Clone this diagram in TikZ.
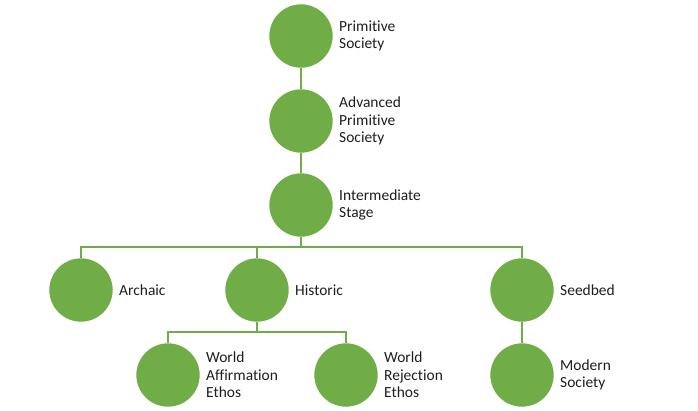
\documentclass[tikz,border=0pt]{standalone}
\usepackage{fontspec}
\setmainfont{Carlito}[Ligatures={NoCommon}]
\definecolor{leaf}{HTML}{70AD47}
\definecolor{ink}{HTML}{1E1E1E}
\begin{document}
\begin{tikzpicture}[x=0.75pt,y=-0.75pt,
    stage/.style={circle,fill=leaf,inner sep=0pt,minimum size=47.5pt},
    tag/.style={anchor=west,align=left,text=ink,inner sep=0pt,xshift=4.5pt,
      font=\fontsize{11.6}{13.1}\selectfont},
    link/.style={draw=leaf,line width=0.8pt}]
    \useasboundingbox (0,0) rectangle (698,410);

    % the chain at the top
    \node[stage] (prim) at (301,36) {};
    \node[stage] (adv) at (301,121) {};
    \node[stage] (inter) at (301,205) {};

    % second row
    \node[stage] (arch) at (81,290) {};
    \node[stage] (hist) at (257,290) {};
    \node[stage] (seed) at (522,290) {};

    % third row
    \node[stage] (affirm) at (168,375) {};
    \node[stage] (reject) at (346,375) {};
    \node[stage] (modern) at (522,375) {};

    \node[tag] at (prim.east) {Primitive\\Society};
    \node[tag] at (adv.east) {Advanced\\Primitive\\Society};
    \node[tag] at (inter.east) {Intermediate\\Stage};
    \node[tag] at (arch.east) {Archaic};
    \node[tag] at (hist.east) {Historic};
    \node[tag] at (seed.east) {Seedbed};
    \node[tag] at (affirm.east) {World\\Affirmation\\Ethos};
    \node[tag] at (reject.east) {World\\Rejection\\Ethos};
    \node[tag] at (modern.east) {Modern\\Society};

    \coordinate (fork) at (301,247);
    \coordinate (fork2) at (257,332);

    \draw[link] (prim) -- (adv);
    \draw[link] (adv) -- (inter);
    \draw[link] (inter) -- (fork);
    \draw[link] (arch.north) |- (fork) -| (seed.north);
    \draw[link] (hist.north) |- (fork);
    \draw[link] (hist) -- (fork2);
    \draw[link] (affirm.north) |- (fork2) -| (reject.north);
    \draw[link] (seed) -- (modern);
\end{tikzpicture}
\end{document}
